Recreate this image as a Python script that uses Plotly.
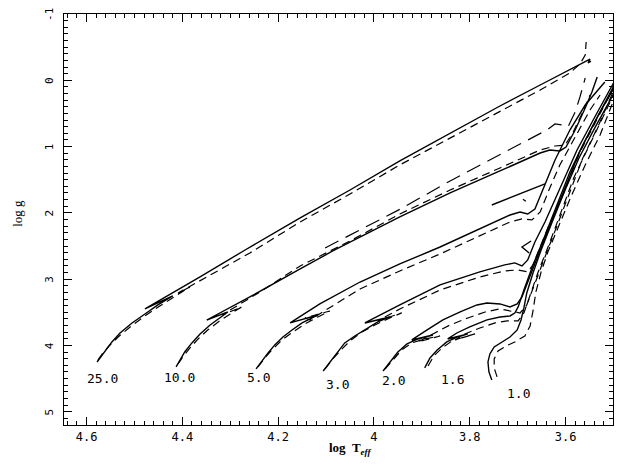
import plotly.graph_objects as go

# ---------------- data (log Teff, log g) ----------------
m25_solid_logT = [4.578, 4.570, 4.559, 4.547, 4.530, 4.505, 4.478, 4.451, 4.420, 4.447, 4.478,
                  4.363, 4.269, 4.154, 4.050, 3.946, 3.841, 3.737, 3.653, 3.591, 3.559, 3.549, 3.553, 3.547]
m25_solid_logg = [4.249, 4.173, 4.068, 3.947, 3.812, 3.661, 3.525, 3.389, 3.253, 3.344, 3.449,
                  2.967, 2.560, 2.077, 1.655, 1.217, 0.795, 0.388, 0.071, -0.170, -0.291, -0.321, -0.261, -0.290]
m25_dash_logT = [4.576, 4.564, 4.551, 4.534, 4.509, 4.478, 4.447, 4.415, 4.384, 4.409,
                 4.363, 4.259, 4.154, 4.050, 3.946, 3.841, 3.737, 3.653, 3.591, 3.570, 3.559, 3.557]
m25_dash_logg = [4.219, 4.098, 3.993, 3.872, 3.721, 3.555, 3.404, 3.253, 3.118, 3.208,
                 3.027, 2.605, 2.137, 1.715, 1.277, 0.870, 0.463, 0.146, -0.110, -0.246, -0.382, -0.578]

m10_solid_logT = [4.413, 4.405, 4.395, 4.380, 4.363, 4.342, 4.322, 4.305, 4.349,
                  4.259, 4.154, 4.086, 3.946, 3.841, 3.737, 3.653, 3.633, 3.612, 3.599,
                  3.580, 3.559, 3.545, 3.534]
m10_solid_logg = [4.324, 4.219, 4.098, 3.962, 3.827, 3.691, 3.585, 3.495, 3.616,
                  3.268, 2.846, 2.575, 2.062, 1.700, 1.368, 1.097, 1.051, 1.066, 1.006,
                  0.750, 0.418, 0.177, -0.050]
m10_dash_logT = [4.409, 4.399, 4.384, 4.367, 4.347, 4.322, 4.290, 4.276, 4.317,
                 4.238, 4.154, 4.050, 3.946, 3.841, 3.737, 3.653, 3.622, 3.601, 3.585, 3.564, 3.549]
m10_dash_logg = [4.279, 4.173, 4.038, 3.902, 3.766, 3.630, 3.480, 3.419, 3.540,
                 3.193, 2.801, 2.424, 2.017, 1.655, 1.323, 1.051, 0.991, 0.976, 0.795, 0.478, 0.222]
m10_loop_logT = [4.102, 3.946, 3.841, 3.737, 3.639, 3.622, 3.608, 3.595, 3.580, 3.570, 3.559]
m10_loop_logg = [2.529, 1.947, 1.518, 1.126, 0.749, 0.659, 0.674, 0.704, 0.478, 0.252, -0.035]

m5_solid_logT = [4.246, 4.234, 4.221, 4.207, 4.190, 4.171, 4.150, 4.129, 4.117, 4.175,
                 4.113, 4.029, 3.946, 3.862, 3.779, 3.716, 3.695, 3.679, 3.664,
                 3.643, 3.622, 3.591, 3.559, 3.518]
m5_solid_logg = [4.354, 4.234, 4.113, 3.992, 3.872, 3.766, 3.660, 3.585, 3.540, 3.660,
                 3.374, 3.043, 2.771, 2.515, 2.243, 2.032, 1.987, 2.017, 1.941,
                 1.579, 1.202, 0.750, 0.373, 0.026]
m5_dash_logT = [4.242, 4.228, 4.211, 4.192, 4.169, 4.144, 4.117, 4.092, 4.144,
                4.134, 4.029, 3.946, 3.862, 3.779, 3.716, 3.691, 3.670, 3.653,
                3.633, 3.612, 3.580, 3.549, 3.528]
m5_dash_logg = [4.324, 4.189, 4.053, 3.917, 3.796, 3.676, 3.570, 3.480, 3.585,
                3.615, 3.148, 2.876, 2.620, 2.349, 2.137, 2.092, 2.107, 1.987,
                1.625, 1.278, 0.855, 0.448, 0.222]
m5_loop_logT = [3.754, 3.706, 3.643]
m5_loop_logg = [1.881, 1.745, 1.564]
m5_mark_logT = [3.689, 3.683]
m5_mark_logg = [1.795, 1.825]

m3_solid_logT = [4.106, 4.092, 4.077, 4.061, 4.040, 4.017, 3.992, 3.967, 4.019,
                 3.946, 3.862, 3.779, 3.727, 3.706, 3.691, 3.679,
                 3.664, 3.643, 3.608, 3.576, 3.539, 3.501, 3.476]
m3_solid_logg = [4.385, 4.249, 4.113, 3.962, 3.857, 3.751, 3.645, 3.570, 3.661,
                 3.389, 3.087, 2.891, 2.785, 2.755, 2.800, 2.710,
                 2.439, 2.137, 1.579, 1.051, 0.554, 0.056, -0.276]
m3_dash_logT = [4.102, 4.086, 4.069, 4.050, 4.025, 3.998, 3.967, 3.942, 3.992,
                3.946, 3.862, 3.779, 3.727, 3.699, 3.679, 3.668,
                3.653, 3.637, 3.601, 3.570, 3.534, 3.501, 3.476]
m3_dash_logg = [4.355, 4.204, 4.068, 3.932, 3.796, 3.691, 3.585, 3.509, 3.630,
                3.450, 3.163, 2.967, 2.876, 2.861, 2.891, 2.785,
                2.514, 2.228, 1.654, 1.081, 0.584, 0.116, -0.216]
m3_loop_logT = [3.672, 3.691, 3.676]
m3_loop_logg = [2.424, 2.515, 2.605]

m2_solid_logT = [3.981, 3.967, 3.950, 3.931, 3.908, 3.877, 3.921,
                 3.889, 3.856, 3.820, 3.785, 3.764, 3.737, 3.716, 3.701, 3.691,
                 3.674, 3.653, 3.628, 3.601, 3.572, 3.537, 3.501, 3.476]
m2_solid_logg = [4.385, 4.249, 4.098, 3.977, 3.902, 3.842, 3.917,
                 3.766, 3.615, 3.495, 3.389, 3.359, 3.374, 3.419, 3.374, 3.268,
                 2.937, 2.560, 2.107, 1.624, 1.097, 0.599, 0.101, -0.231]
m2_dash_logT = [3.977, 3.960, 3.942, 3.921, 3.894, 3.862, 3.908,
                3.873, 3.841, 3.804, 3.768, 3.737, 3.712, 3.695, 3.681,
                3.664, 3.643, 3.618, 3.591, 3.564, 3.530, 3.501, 3.476]
m2_dash_logg = [4.355, 4.219, 4.068, 3.962, 3.902, 3.857, 3.947,
                3.811, 3.691, 3.585, 3.495, 3.449, 3.480, 3.510, 3.389,
                3.057, 2.665, 2.197, 1.700, 1.172, 0.659, 0.176, -0.155]

m16_solid_logT = [3.894, 3.883, 3.868, 3.848, 3.825, 3.804, 3.846,
                  3.827, 3.800, 3.764, 3.737, 3.716, 3.706, 3.699,
                  3.687, 3.668, 3.645, 3.618, 3.591, 3.562, 3.528, 3.501, 3.476]
m16_solid_logg = [4.339, 4.189, 4.068, 3.947, 3.872, 3.826, 3.902,
                  3.812, 3.721, 3.615, 3.570, 3.555, 3.510, 3.419,
                  3.163, 2.786, 2.379, 1.881, 1.383, 0.946, 0.478, 0.146, -0.186]
m16_dash_logT = [3.887, 3.875, 3.858, 3.837, 3.812, 3.789, 3.831,
                 3.810, 3.779, 3.747, 3.722, 3.699, 3.687,
                 3.676, 3.658, 3.635, 3.610, 3.583, 3.553, 3.522, 3.501, 3.476]
m16_dash_logg = [4.309, 4.159, 4.038, 3.932, 3.872, 3.826, 3.917,
                 3.826, 3.736, 3.660, 3.630, 3.630, 3.510,
                 3.284, 2.907, 2.484, 1.986, 1.474, 1.021, 0.554, 0.237, -0.095]

m1_solid_logT = [3.754, 3.760, 3.762, 3.758, 3.749, 3.733, 3.716, 3.701, 3.693, 3.687, 3.681,
                 3.668, 3.651, 3.628, 3.601, 3.572, 3.539, 3.501, 3.476]
m1_solid_logg = [4.520, 4.400, 4.249, 4.128, 4.023, 3.947, 3.872, 3.766, 3.615, 3.434, 3.208,
                 2.906, 2.559, 2.137, 1.655, 1.172, 0.719, 0.222, -0.095]
m1_dash_logT = [3.743, 3.749, 3.749, 3.741, 3.724, 3.706, 3.685, 3.674, 3.668, 3.662,
                3.651, 3.637, 3.616, 3.589, 3.559, 3.528, 3.501, 3.476]
m1_dash_logg = [4.475, 4.339, 4.204, 4.083, 4.008, 3.947, 3.857, 3.706, 3.480, 3.193,
                2.891, 2.590, 2.228, 1.760, 1.278, 0.825, 0.328, -0.005]

mass_labels = ["25.0", "10.0", "5.0", "3.0", "2.0", "1.6", "1.0"]
label_logT = [4.566, 4.405, 4.240, 4.077, 3.960, 3.837, 3.699]
label_logg = [4.505, 4.490, 4.490, 4.596, 4.536, 4.520, 4.732]

x_tick_vals = [4.6, 4.4, 4.2, 4.0, 3.8, 3.6]
x_tick_text = ["4.6", "4.4", "4.2", "4", "3.8", "3.6"]
y_tick_vals = [-1, 0, 1, 2, 3, 4, 5]
y_tick_text = ["-1", "0", "1", "2", "3", "4", "5"]

# ---------------- figure ----------------
fig = go.Figure()

solid_tracks = [
    (m25_solid_logT, m25_solid_logg), (m10_solid_logT, m10_solid_logg),
    (m5_solid_logT, m5_solid_logg), (m5_loop_logT, m5_loop_logg), (m5_mark_logT, m5_mark_logg),
    (m3_solid_logT, m3_solid_logg), (m3_loop_logT, m3_loop_logg),
    (m2_solid_logT, m2_solid_logg), (m16_solid_logT, m16_solid_logg),
    (m1_solid_logT, m1_solid_logg),
]
dashed_tracks = [
    (m25_dash_logT, m25_dash_logg), (m10_dash_logT, m10_dash_logg),
    (m5_dash_logT, m5_dash_logg), (m3_dash_logT, m3_dash_logg),
    (m2_dash_logT, m2_dash_logg), (m16_dash_logT, m16_dash_logg),
    (m1_dash_logT, m1_dash_logg),
]

for xs, ys in solid_tracks:
    fig.add_trace(go.Scatter(x=xs, y=ys, mode="lines",
                             line=dict(color="black", width=1.4), showlegend=False,
                             hoverinfo="skip"))
for xs, ys in dashed_tracks:
    fig.add_trace(go.Scatter(x=xs, y=ys, mode="lines",
                             line=dict(color="black", width=1.2, dash="8px,5px"),
                             showlegend=False, hoverinfo="skip"))
fig.add_trace(go.Scatter(x=m10_loop_logT, y=m10_loop_logg, mode="lines",
                         line=dict(color="black", width=1.2, dash="15px,8px"),
                         showlegend=False, hoverinfo="skip"))

for txt, lx, ly in zip(mass_labels, label_logT, label_logg):
    fig.add_annotation(x=lx, y=ly, text=txt, showarrow=False,
                       font=dict(family="DejaVu Sans Mono", size=13, color="black"),
                       xanchor="center", yanchor="middle")

fig.add_annotation(x=4.05, xref="x", y=-0.058, yref="paper",
                   text="<b>log  T</b><sub><b><i>eff</i></b></sub>", showarrow=False,
                   font=dict(family="Liberation Serif", size=13, color="black"),
                   xanchor="center", yanchor="middle")
fig.add_annotation(x=-0.084, xref="paper", y=2.0, yref="y",
                   text="log g", textangle=-90, showarrow=False,
                   font=dict(family="Liberation Serif", size=13, color="black"),
                   xanchor="center", yanchor="middle")

axis_common = dict(showgrid=False, zeroline=False, showline=True, linecolor="black",
                   linewidth=1.3, mirror="allticks", ticks="inside", tickcolor="black",
                   tickwidth=1, automargin=False, ticklabeloverflow="allow")

fig.update_xaxes(range=[4.647, 3.501], tickvals=x_tick_vals, ticktext=x_tick_text,
                 ticklen=8, tickfont=dict(family="DejaVu Sans Mono", size=12, color="black"),
                 minor=dict(ticks="inside", ticklen=4, dtick=0.02, tick0=3.5,
                            tickcolor="black", tickwidth=1),
                 **axis_common)
fig.update_yaxes(range=[5.2, -1], tickvals=y_tick_vals, ticktext=y_tick_text,
                 ticklen=8, tickangle=-90, ticklabelstandoff=5, ticklabelshift=-2,
                 tickfont=dict(family="DejaVu Sans Mono", size=11, color="black"),
                 minor=dict(ticks="inside", ticklen=4, dtick=0.1, tick0=0,
                            tickcolor="black", tickwidth=1),
                 **axis_common)

# the page body adds an 8 px offset, so the figure is sized to fill the window exactly
fig.update_layout(width=619, height=457, margin=dict(l=56, r=14, t=6, b=40),
                  plot_bgcolor="white", paper_bgcolor="white", template="none")

fig.write_html("out.html")
